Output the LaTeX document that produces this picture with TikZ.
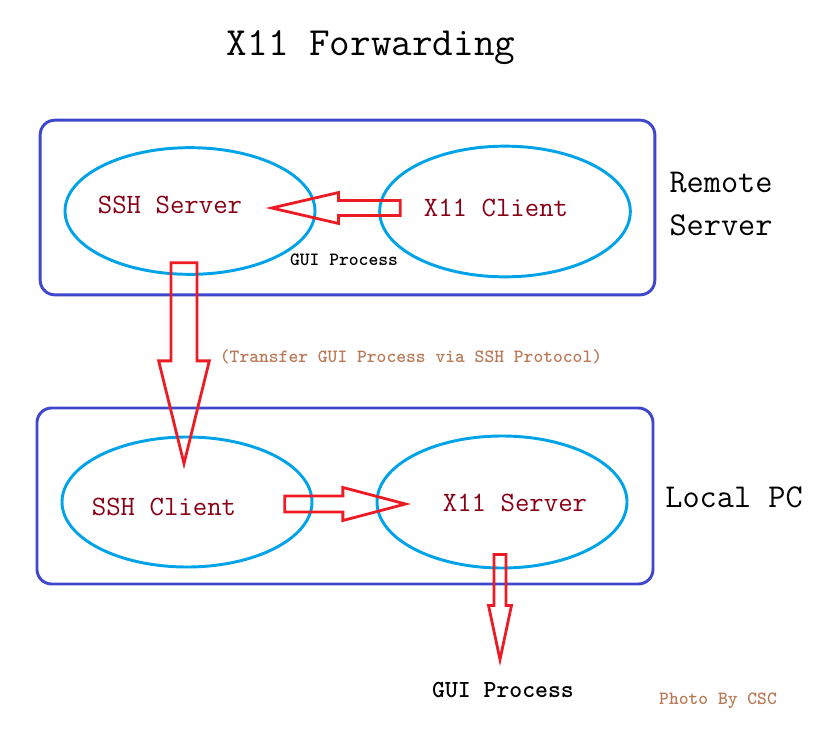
\documentclass[tikz,border=0pt]{standalone}
\usepackage{fontspec}
\usepackage{tikz}
\usetikzlibrary{calc,shapes.geometric}
\usepackage{xcolor}
\definecolor{HostBlue}{HTML}{3F48CC}
\definecolor{ProcCyan}{HTML}{00A2E8}
\definecolor{FlowRed}{HTML}{ED1C24}
\definecolor{NameRed}{HTML}{880015}
\definecolor{NoteBrown}{HTML}{B97A57}
\tikzset{
  hostbox/.style={draw=HostBlue,line width=2.2pt,rounded corners=11pt,inner sep=0pt},
  procell/.style={draw=ProcCyan,line width=2.2pt,ellipse,inner sep=0pt},
  procname/.style={text=NameRed,font=\ttfamily\fontsize{21}{24}\selectfont},
  hostname/.style={align=left,font=\ttfamily\fontsize{25}{32}\selectfont},
  smallnote/.style={font=\ttfamily\bfseries\fontsize{14}{16}\selectfont},
  bigarrow/.style={draw=FlowRed,line width=2.1pt,miter limit=20}
}
% #1 tail, #2 tip, #3 half shaft, #4 half head, #5 head length
\newcommand{\blockarrow}[5]{%
  \coordinate (hb) at ($(#2)!#5!(#1)$);
  \draw[bigarrow] ($(#1)!#3!90:(#2)$) -- ($(hb)!#3!90:(#2)$) -- ($(hb)!#4!90:(#2)$)
    -- (#2) -- ($(hb)!#4!-90:(#2)$) -- ($(hb)!#3!-90:(#2)$) -- ($(#1)!#3!-90:(#2)$) -- cycle;
}

\begin{document}
\begin{tikzpicture}[x=0.75pt,y=-0.75pt]
  \useasboundingbox (0,0) rectangle (839,742);
  \node[font=\ttfamily\fontsize{30}{34}\selectfont] (title) at (371,48) {X11 Forwarding};

  % remote side
  \node[hostbox,minimum width=461pt,minimum height=131pt] (remote) at (347.5,207.5) {};
  \node[procell,minimum width=187.5pt,minimum height=95pt] (sshsrv) at (190,211) {};
  \node[procell,minimum width=188pt,minimum height=98pt] (x11cli) at (505,211.5) {};
  \node[procname] (sshsrvtxt) at (170,205) {SSH Server};
  \node[procname] (x11clitxt) at (496,208) {X11 Client};
  \node[smallnote] (guiproc) at (344,260) {GUI Process};
  \node[hostname] (remotetxt) at (721,204) {Remote\\Server};

  % local side
  \node[hostbox,minimum width=462pt,minimum height=132pt] (local) at (345,496) {};
  \node[procell,minimum width=187.5pt,minimum height=97.5pt] (sshcli) at (187,502) {};
  \node[procell,minimum width=187.5pt,minimum height=99pt] (x11srv) at (502,502) {};
  \node[procname] (sshclitxt) at (164,507) {SSH Client};
  \node[procname] (x11srvtxt) at (515,503) {X11 Server};
  \node[hostname] (localtxt) at (734,497) {Local PC};

  \node[smallnote,text=NoteBrown] (transfer) at (411,357) {(Transfer GUI Process via SSH Protocol)};
  \node[font=\ttfamily\bfseries\fontsize{18.4}{20}\selectfont] (guiout) at (503,690) {GUI Process};
  \node[smallnote,text=NoteBrown] (photo) at (718,701) {Photo By CSC};

  % flows
  \coordinate (f1s) at ($(x11clitxt.west)+(-19,0)$);
  \coordinate (f1e) at ($(sshsrvtxt.east)+(25,3)$);
  \blockarrow{f1s}{f1e}{5.6pt}{11.6pt}{50pt}
  \coordinate (f2s) at ($(sshsrv.south)+(-6,-13)$);
  \coordinate (f2e) at ($(sshcli.north)+(-3,28)$);
  \blockarrow{f2s}{f2e}{9.75pt}{19pt}{77pt}
  \coordinate (f3s) at ($(sshclitxt.east)+(44,-3)$);
  \coordinate (f3e) at ($(x11srv.west)+(30,2)$);
  \blockarrow{f3s}{f3e}{6pt}{12.4pt}{47pt}
  \coordinate (f4s) at ($(x11srv.south)+(-2,-15)$);
  \coordinate (f4e) at ($(guiout.north)+(-3,-18)$);
  \blockarrow{f4s}{f4e}{4.5pt}{8.6pt}{40.5pt}
\end{tikzpicture}
\end{document}
